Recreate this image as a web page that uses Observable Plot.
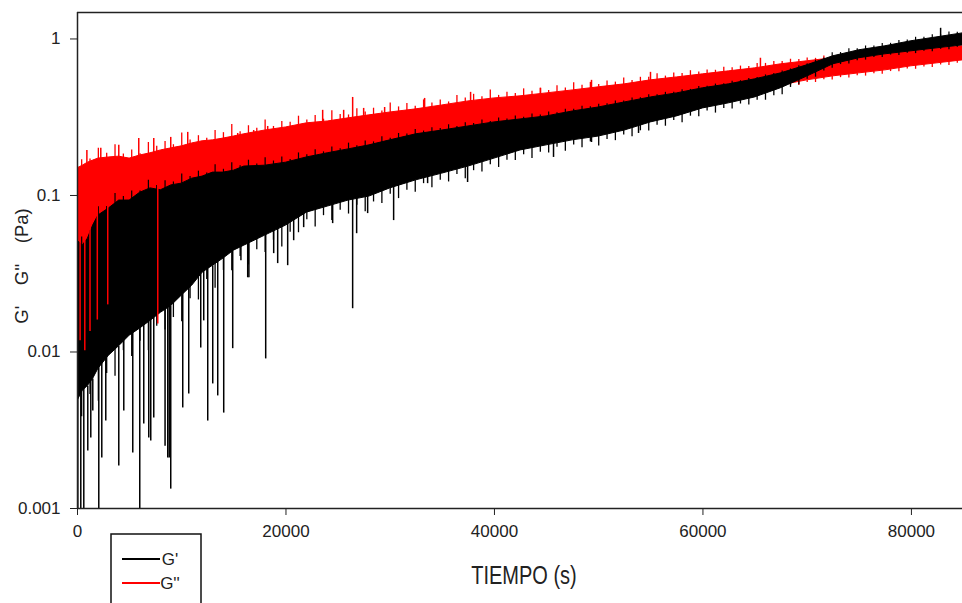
<!DOCTYPE html>
<html><head><meta charset="utf-8">
<script src="https://cdn.jsdelivr.net/npm/d3@7"></script>
<script src="https://cdn.jsdelivr.net/npm/@observablehq/plot@0.6"></script>
<style>
html,body{margin:0;padding:0;background:#fff;}
#chart svg{display:block;}
</style>
</head><body><div id="chart"></div>
<script>
// Sample times (s) at which the edges of each noisy band were read
const tiempo = [0,500,1000,1500,2000,3000,4000,5000,6000,7000,8000,9000,10000,11000,12000,13000,14000,15000,16000,18000,20000,22000,24000,26000,28000,30000,32500,35000,37500,40000,42500,45000,47500,50000,52500,55000,57500,60000,62500,65000,67500,70000,72500,75000,77500,80000,82500,85000];

// G'' (red) band: upper and lower edge (Pa)
const gpp_alto = [0.149,0.155,0.162,0.167,0.172,0.175,0.177,0.172,0.180,0.186,0.194,0.200,0.206,0.215,0.222,0.225,0.231,0.238,0.246,0.260,0.272,0.289,0.297,0.311,0.325,0.339,0.355,0.376,0.399,0.417,0.430,0.449,0.469,0.491,0.513,0.544,0.568,0.594,0.621,0.649,0.689,0.720,0.753,0.775,0.810,0.847,0.872,0.898];
const gpp_bajo = [0.0213,0.0183,0.0229,0.0265,0.0307,0.0412,0.0514,0.0596,0.0691,0.0744,0.0801,0.0862,0.0928,0.0999,0.104,0.108,0.112,0.116,0.125,0.128,0.134,0.144,0.155,0.167,0.177,0.188,0.209,0.225,0.231,0.246,0.260,0.276,0.293,0.311,0.334,0.360,0.382,0.405,0.436,0.469,0.505,0.544,0.577,0.603,0.630,0.669,0.699,0.731];

// G' (black) band: upper and lower edge (Pa)
const gp_alto = [0.0514,0.0478,0.0530,0.0642,0.0744,0.0825,0.0928,0.0928,0.104,0.111,0.108,0.116,0.119,0.128,0.132,0.140,0.140,0.144,0.153,0.155,0.162,0.175,0.186,0.197,0.209,0.225,0.246,0.260,0.276,0.293,0.306,0.320,0.344,0.365,0.393,0.423,0.449,0.484,0.513,0.552,0.603,0.679,0.775,0.847,0.898,0.967,1.025,1.088];
const gp_bajo = [0.00486,0.00564,0.00607,0.00673,0.00780,0.00944,0.0109,0.0127,0.0141,0.0158,0.0178,0.0197,0.0229,0.0265,0.0321,0.0356,0.0395,0.0444,0.0478,0.0554,0.0642,0.0777,0.0849,0.0928,0.0984,0.111,0.125,0.138,0.153,0.172,0.194,0.209,0.225,0.238,0.260,0.293,0.320,0.360,0.388,0.423,0.485,0.575,0.689,0.753,0.798,0.834,0.872,0.911];

// Short noise tips along the band edges, read column by column (s)
const pelo_t = [400,1200,2000,2800,3600,4400,5200,6000,6800,7600,
  8400,9200,10000,10800,11600,12400,13200,14000,14800,15600,
  16400,17200,18000,18800,19600,20400,21200,22000,22800,23600,
  24400,25200,26000,26800,27600,28400,29200,30000,30800,31600,
  32400,33200,34000,34800,35600,36400,37200,38000,38800,39600,
  40400,41200,42000,42800,43600,44400,45200,46000,46800,47600,
  48400,49200,50000,50800,51600,52400,53200,54000,54800,55600,
  56400,57200,58000,58800,59600,60400,61200,62000,62800,63600,
  64400,65200,66000,66800,67600,68400,69200,70000,70800,71600,
  72400,73200,74000,74800,75600,76400,77200,78000,78800,79600,
  80400,81200,82000,82800,83600,84400];
// G'' upper tips
const gpp_pelo_sup = [0.169,0.171,0.200,0.186,0.211,0.184,0.195,0.185,0.218,0.206,
  0.221,0.211,0.251,0.226,0.241,0.232,0.260,0.252,0.284,0.255,
  0.279,0.269,0.304,0.276,0.297,0.294,0.321,0.303,0.324,0.307,
  0.348,0.329,0.327,0.358,0.341,0.361,0.346,0.390,0.368,0.387,
  0.372,0.408,0.390,0.408,0.396,0.436,0.420,0.443,0.428,0.472,
  0.436,0.457,0.448,0.480,0.464,0.484,0.469,0.503,0.486,0.526,
  0.506,0.528,0.511,0.538,0.530,0.563,0.543,0.569,0.569,0.600,
  0.579,0.605,0.602,0.627,0.614,0.634,0.631,0.659,0.655,0.671,
  0.668,0.698,0.698,0.719,0.718,0.742,0.738,0.756,0.752,0.778,
  0.775,0.782,0.781,0.796,0.798,0.819,0.822,0.842,0.846,0.866,
  0.868,0.885,0.884,0.901,0.902,0.919];
// G' lower tips
const gp_pelo_inf = [0.00385,0.00536,0.00484,0.00728,0.00700,0.0102,0.00936,0.0117,0.0102,0.0146,
  0.0138,0.0166,0.0156,0.0219,0.0215,0.0291,0.0255,0.0332,0.0330,0.0408,
  0.0360,0.0450,0.0432,0.0518,0.0468,0.0582,0.0578,0.0699,0.0629,0.0743,
  0.0692,0.0806,0.0761,0.0865,0.0788,0.0909,0.0890,0.102,0.0955,0.108,
  0.105,0.119,0.112,0.125,0.122,0.136,0.128,0.144,0.141,0.157,
  0.151,0.168,0.167,0.182,0.172,0.189,0.187,0.203,0.192,0.210,
  0.202,0.220,0.207,0.228,0.224,0.243,0.237,0.259,0.258,0.281,
  0.277,0.301,0.292,0.321,0.319,0.346,0.336,0.359,0.357,0.384,
  0.378,0.406,0.406,0.434,0.440,0.490,0.510,0.552,0.570,0.624,
  0.651,0.686,0.692,0.726,0.733,0.762,0.761,0.789,0.784,0.811,
  0.806,0.835,0.829,0.859,0.853,0.884];
// G' upper tips
const gp_pelo_sup = [0.0543,0.0598,0.0848,0.0849,0.103,0.0984,0.107,0.107,0.125,0.116,
  0.124,0.122,0.137,0.132,0.143,0.139,0.157,0.147,0.162,0.155,
  0.168,0.159,0.174,0.166,0.176,0.170,0.187,0.182,0.196,0.190,
  0.204,0.199,0.216,0.208,0.223,0.220,0.237,0.232,0.249,0.247,
  0.264,0.258,0.271,0.268,0.283,0.276,0.291,0.288,0.304,0.297,
  0.313,0.308,0.322,0.316,0.332,0.327,0.341,0.338,0.355,0.355,
  0.371,0.369,0.383,0.385,0.402,0.402,0.419,0.421,0.440,0.440,
  0.456,0.457,0.474,0.476,0.497,0.499,0.515,0.517,0.536,0.541,
  0.559,0.567,0.589,0.601,0.624,0.643,0.675,0.693,0.731,0.755,
  0.817,0.819,0.867,0.866,0.902,0.901,0.937,0.938,0.978,0.985,
  1.025,1.024,1.064,1.064,1.106,1.105];
// G'' lower tips (only visible at the end, t >= 68400)
const gpp_pelo_inf = [0.503,0.505,0.528,0.527,0.548,0.547,0.566,0.563,0.583,0.579,
  0.599,0.596,0.619,0.617,0.643,0.640,0.663,0.658,0.682,0.676,0.700];

// Isolated long spikes of G' (tip value)
const gp_pico_t = [30,316,604,987,1275,1467,2042,2330,2713,3960,4440,5302,5973,6357,6836,7028,7316,8400,8658,8800,8945,10096,10671,11822,12109,12493,12973,13452,14027,14890,15677,16328,16444,18054,18821,19204,20163,20738,21697,24478,26395,26779,27834,30327,33587,37422,45666,49310,53822,82800];
const gp_pico_v = [0.0009,0.0009,0.0009,0.00233,0.00282,0.0042,0.0009,0.0021,0.00362,0.00187,0.0042,0.00226,0.0009,0.00347,0.00282,0.0027,0.00379,0.0025,0.0021,0.0021,0.00133,0.00439,0.00539,0.0106,0.0158,0.00362,0.00625,0.00524,0.00407,0.0105,0.0383,0.0298,0.0298,0.00903,0.0425,0.0367,0.0356,0.0514,0.0623,0.0661,0.0189,0.057,0.0766,0.0691,0.119,0.121,0.175,0.218,0.249,1.17];

// Isolated long spikes of G'' (tip value)
const gpp_pico_t = [250,700,900,1200,1900,2234,2900,3960,5877,7316,7700,8945,10575,15369,16903,18246,23519,25533,26396,27451,29464,33300,37710,44420,49310,54968,65515];
const gpp_pico_v = [0.0118,0.0102,0.194,0.0135,0.016,0.200,0.020,0.209,0.231,0.231,0.0151,0.235,0.253,0.249,0.260,0.276,0.350,0.350,0.423,0.360,0.365,0.417,0.456,0.484,0.544,0.612,0.753];

const xTicks = [0,20000,40000,60000,80000];
const yTicks = [0.001,0.01,0.1,1];
const serieNombres = ["G'", "G''"];
const serieColores = ["#000000", "#ff0000"];

// ---- tables ----
const banda = tiempo.map((t,i) => ({t, gpA: gp_alto[i], gpB: gp_bajo[i], gppA: gpp_alto[i], gppB: gpp_bajo[i]}));
const bis = d3.bisector(d => d).right;
const bracket = t => { const k = Math.max(0, Math.min(tiempo.length - 2, bis(tiempo, t) - 1)); return [k, k + 1]; };
// base of a tip: a point inside the band between the two read samples around t
const baseSup = (arr, t) => { const [a,b] = bracket(t); return Math.min(arr[a], arr[b]); };
const baseInf = (arr, t) => { const [a,b] = bracket(t); return Math.max(arr[a], arr[b]); };
const tips = (ts, vs, hi, lo) => ts.map((t,i) => {
  const v = vs[i];
  return {t, v, base: v > baseSup(hi, t) ? baseSup(hi, t) : baseInf(lo, t)};
});
const gppSup = tips(pelo_t, gpp_pelo_sup, gpp_alto, gpp_bajo);
const gpInf = tips(pelo_t, gp_pelo_inf, gp_alto, gp_bajo);
const gpSup = tips(pelo_t, gp_pelo_sup, gp_alto, gp_bajo);
const gppInf = tips(pelo_t.slice(pelo_t.length - gpp_pelo_inf.length), gpp_pelo_inf, gpp_alto, gpp_bajo);
const gpPicos = tips(gp_pico_t, gp_pico_v, gp_alto, gp_bajo);
const gppPicos = gpp_pico_t.map((t,i) => {
  const v = gpp_pico_v[i];
  const down = v < baseInf(gpp_bajo, t);
  return {t, v, down, base: baseSup(gpp_alto, t)};
});

const R = (data, color, w) => Plot.ruleX(data, {x: "t", y1: "base", y2: "v", stroke: color, strokeWidth: w, clip: true});

const chart = Plot.plot({
  width: 962, height: 603,
  marginLeft: 77, marginRight: 0, marginTop: 12, marginBottom: 95,
  style: {fontFamily: "'Liberation Sans', Arial, sans-serif", fontSize: "17px", color: "#222", background: "#fff"},
  x: {domain: [0, 84900], ticks: xTicks, tickFormat: d => String(d), tickSize: 7, tickPadding: 9, label: null},
  y: {type: "log", domain: [0.001, 1.476], ticks: yTicks, tickFormat: d => String(d), tickSize: 7, tickPadding: 10, label: null},
  marks: [
    Plot.areaY(banda, {x: "t", y1: "gppB", y2: "gppA", fill: serieColores[1], stroke: serieColores[1], strokeWidth: 1, clip: true}),
    R(gppSup, serieColores[1], 1.3),
    R(gppPicos.filter(d => !d.down), serieColores[1], 1.5),
    R(gppInf, serieColores[1], 1.3),
    Plot.areaY(banda, {x: "t", y1: "gpB", y2: "gpA", fill: serieColores[0], stroke: serieColores[0], strokeWidth: 1, clip: true}),
    R(gpSup, serieColores[0], 1.2),
    R(gpInf, serieColores[0], 1.3),
    R(gppPicos.filter(d => d.down), serieColores[1], 1.5),
    R(gpPicos, serieColores[0], 1.5),
    Plot.ruleX([0], {stroke: "#222", strokeWidth: 1.5}),
    Plot.ruleY([0.001], {stroke: "#222", strokeWidth: 1.5}),
    Plot.ruleY([1.476], {stroke: "#222", strokeWidth: 1.5})
  ]
});
document.getElementById("chart").append(chart);

const svg = d3.select(chart);
// axis titles
svg.append("text")
  .attr("transform", "translate(524,584) scale(1,1.25)")
  .attr("text-anchor", "middle")
  .attr("font-size", 20).attr("fill", "#222")
  .text("TIEMPO (s)");
svg.append("text")
  .attr("transform", "translate(28,266) rotate(-90)")
  .attr("text-anchor", "middle")
  .attr("font-size", 18.5).attr("fill", "#222")
  .text("G'\u00a0\u00a0\u00a0\u00a0G''\u00a0\u00a0\u00a0\u00a0(Pa)");
// legend
const lg = svg.append("g");
lg.append("rect").attr("x", 111).attr("y", 534).attr("width", 90).attr("height", 80)
  .attr("fill", "#fff").attr("stroke", "#111").attr("stroke-width", 1.5);
serieNombres.forEach((n, i) => {
  const yy = 559 + i * 24;
  lg.append("line").attr("x1", 122).attr("x2", 160).attr("y1", yy).attr("y2", yy)
    .attr("stroke", serieColores[i]).attr("stroke-width", 2);
  lg.append("text").attr("x", 170).attr("y", yy + 6).attr("font-size", 17).attr("fill", "#222").text(n);
});
</script>
</body></html>
